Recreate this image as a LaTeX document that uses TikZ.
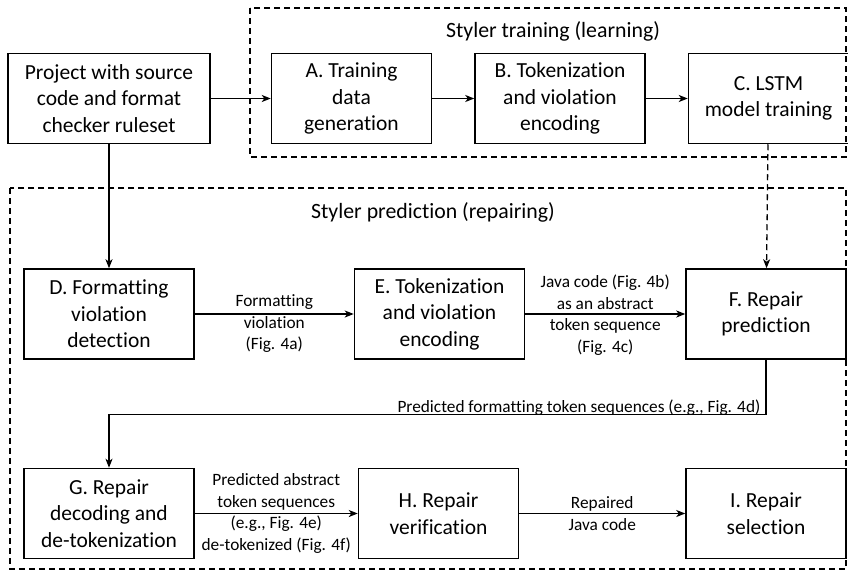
\documentclass[tikz,border=0pt]{standalone}
\usepackage{fontspec}
\setmainfont{Carlito}[Ligatures={NoCommon}]
\usetikzlibrary{positioning,arrows.meta}

\begin{document}
\begin{tikzpicture}[x=1pt, y=-1pt, node distance={60pt},
  >={Stealth[length=9pt,width=7pt,inset=2.5pt]},
  blk/.style = {draw, line width=1.5pt, align=center, minimum width=160pt, minimum height=90pt, inner sep=2pt, font=\fontsize{21.5}{26.5}\selectfont},
  lbl/.style = {align=center, inner sep=1pt, font=\fontsize{17.3}{21.5}\selectfont},
  grp/.style = {draw, line width=1.3pt, dash pattern=on 6pt off 4pt},
  ttl/.style = {font=\fontsize{21.8}{26}\selectfont}]
\useasboundingbox (0,0) rectangle (848,570);
% dashed groups
\draw[grp] (250,8) rectangle (846,157);
\draw[grp] (10,188) rectangle (846,569);
\node[ttl] (ttrain) at (553,31) {Styler training (learning)};
\node[ttl] (tpred) at (433,212) {Styler prediction (repairing)};
% top row
\node[blk, minimum width=202pt] (proj) at (109,98.5) {Project with source\\code and format\\checker ruleset};
\node[blk] (a) [right=60pt of proj] {A. Training\\data\\generation};
\node[blk, minimum width=170pt] (b) [right=42pt of a] {B. Tokenization\\and violation\\encoding};
\node[blk] (c) [right=42pt of b] {C. LSTM\\model training};
% middle row
\node[blk, minimum width=170pt] (d) [below=124pt of proj] {D. Formatting\\violation\\detection};
\node[blk, minimum width=170pt] (e) [right=159pt of d] {E. Tokenization\\and violation\\encoding};
\node[blk] (f) [right=160pt of e] {F. Repair\\prediction};
% bottom row
\node[blk, minimum width=170pt] (g) [below=108pt of d] {G. Repair\\decoding and\\de-tokenization};
\node[blk] (h) [right=163pt of g] {H. Repair\\verification};
\node[blk] (i) [right=166pt of h] {I. Repair\\selection};
% connectors
\draw[->, line width=1.3pt] (proj) -- (a);
\draw[->, line width=1.3pt] (a) -- (b);
\draw[->, line width=1.3pt] (b) -- (c);
\draw[->, line width=1.3pt] (proj) -- (d);
\draw[->, line width=1.3pt, dash pattern=on 6pt off 4pt] (c) -- (f);
\draw[->, line width=1.3pt] (d) -- node[lbl, yshift=-10pt] {Formatting\\violation\\(Fig. 4a)} (e);
\draw[->, line width=1.3pt] (e) -- node[lbl, yshift=-1pt] {Java code (Fig. 4b)\\as an abstract\\token sequence\\(Fig. 4c)} (f);
\draw[->, line width=1.3pt] (f.south) -- ++(0,55)
  node[lbl, anchor=south east, xshift=-4pt, yshift=-2pt] {Predicted formatting token sequences (e.g., Fig. 4d)}
  -| (g.north);
\draw[->, line width=1.3pt] (g) -- node[lbl] {Predicted abstract\\token sequences\\(e.g., Fig. 4e)\\de-tokenized (Fig. 4f)} (h);
\draw[->, line width=1.3pt] (h) -- node[lbl] {Repaired\\Java code} (i);
\end{tikzpicture}
\end{document}
